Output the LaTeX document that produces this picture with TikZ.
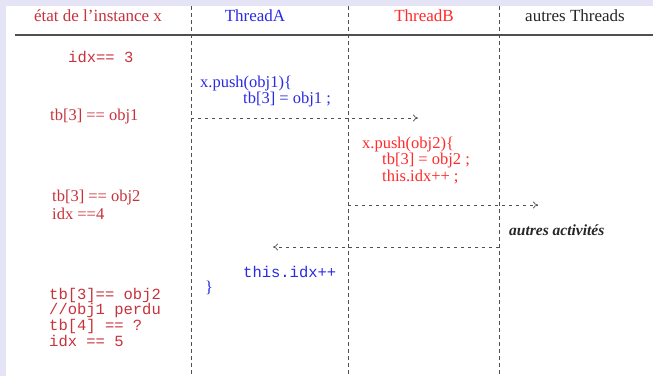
\documentclass[tikz,border=0pt]{standalone}
\usepackage{fontspec}
\setmainfont{Liberation Serif}
\setmonofont{Liberation Mono}
\usetikzlibrary{arrows.meta}
\definecolor{band}{HTML}{E4E4F6}
\definecolor{etat}{HTML}{C8323C}
\definecolor{tbred}{HTML}{FF2A2A}
\definecolor{tablue}{HTML}{2A2AE6}
\definecolor{linegray}{HTML}{505050}
\begin{document}
\begin{tikzpicture}[x=1pt,y=-1pt,
  txt/.style={inner sep=0pt, anchor=west, font=\fontsize{16.5}{19}\selectfont},
  mono/.style={inner sep=0pt, anchor=west, font=\ttfamily\fontsize{15.5}{18}\selectfont},
  head/.style={inner sep=0pt, anchor=center, font=\fontsize{17}{19}\selectfont},
  lifeline/.style={draw=linegray, line width=0.7pt, dash pattern=on 4pt off 3pt},
  msg/.style={draw=linegray, line width=0.7pt, dash pattern=on 3pt off 4pt, -{To[length=5pt,width=7pt]}},
]
\fill[band] (0,0) rectangle (653,376);
\fill[white] (6,6) rectangle (653,376);
\useasboundingbox (0,0) rectangle (653,376);

% lifelines
\coordinate (la-top) at (191,6);  \coordinate (la-bot) at (191,376);
\coordinate (lb-top) at (348,6);  \coordinate (lb-bot) at (348,376);
\coordinate (lc-top) at (499,6);  \coordinate (lc-bot) at (499,376);
\draw[lifeline] (la-top) -- (la-bot);
\draw[lifeline] (lb-top) -- (lb-bot);
\draw[lifeline] (lc-top) -- (lc-bot);

% header rule
\coordinate (rule-l) at (15,35); \coordinate (rule-r) at (653,35);
\draw[linegray, line width=1.3pt] (rule-l) -- (rule-r);

% headers
\node[head, text=etat] (h0) at (98,16) {état de l'instance x};
\node[head, text=tablue] (h1) at (255,16) {ThreadA};
\node[head, text=tbred] (h2) at (424,16) {ThreadB};
\node[head, text=black!85] (h3) at (575,16) {autres Threads};

% left column
\node[mono, text=etat] (s0) at (68,57) {idx== 3};
\node[txt, text=etat] (s1) at (50,117) {tb[3] == obj1};
\node[txt, text=etat] (s2a) at (52,198) {tb[3] == obj2};
\node[txt, text=etat] (s2b) at (52,214) {idx ==4};
\node[mono, text=etat] (s3a) at (49,295) {tb[3]== obj2};
\node[mono, text=etat] (s3b) at (49,310) {//obj1 perdu};
\node[mono, text=etat] (s3c) at (49,326) {tb[4] == ?};
\node[mono, text=etat] (s3d) at (49,341) {idx == 5};

% ThreadA
\node[txt, text=tablue] (a1) at (200,84) {x.push(obj1)\{};
\node[txt, text=tablue] (a2) at (243,100) {tb[3] = obj1 ;};
\node[mono, text=tablue] (a3) at (243,272) {this.idx++};
\node[txt, text=tablue] (a4) at (205,288) {\}};

% ThreadB
\node[txt, text=tbred] (b1) at (362,145) {x.push(obj2)\{};
\node[txt, text=tbred] (b2) at (382,161) {tb[3] = obj2 ;};
\node[txt, text=tbred] (b3) at (382,177) {this.idx++ ;};

% autres
\node[txt, font=\bfseries\itshape\fontsize{15.5}{18}\selectfont, text=black!85] (c1) at (509,230) {autres activités};

% messages
\coordinate (m1s) at (191,118); \coordinate (m1e) at (418,118);
\coordinate (m2s) at (348,205); \coordinate (m2e) at (538,205);
\coordinate (m3s) at (499,247); \coordinate (m3e) at (273,247);
\draw[msg] (m1s) -- (m1e);
\draw[msg] (m2s) -- (m2e);
\draw[msg] (m3s) -- (m3e);
\end{tikzpicture}
\end{document}
